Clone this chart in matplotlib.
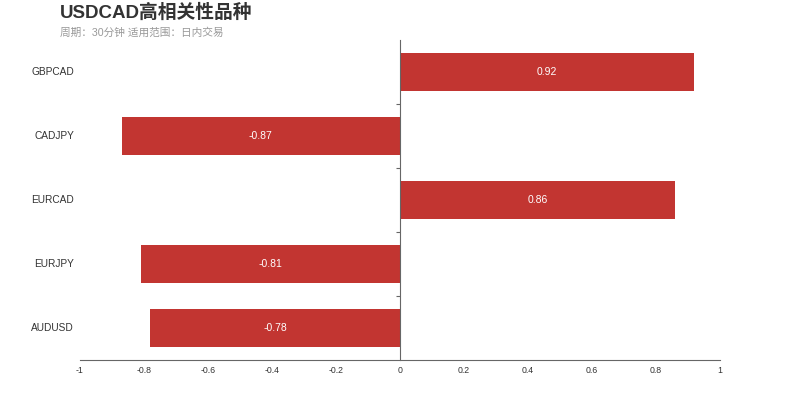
import matplotlib
matplotlib.use("Agg")
import matplotlib.pyplot as plt
import matplotlib.transforms as mtransforms

plt.rcParams['font.family'] = ['Liberation Sans', 'Noto Sans CJK SC', 'DejaVu Sans']

# data
symbols = ["GBPCAD", "CADJPY", "EURCAD", "EURJPY", "AUDUSD"]
corr = [0.92, -0.87, 0.86, -0.81, -0.78]
xticks = [-1, -0.8, -0.6, -0.4, -0.2, 0, 0.2, 0.4, 0.6, 0.8, 1]
xticklabels = ["-1", "-0.8", "-0.6", "-0.4", "-0.2", "0", "0.2", "0.4", "0.6", "0.8", "1"]

title = "USDCAD高相关性品种"
subtitle = "周期：30分钟 适用范围：日内交易"

bar_color = "#c23531"
text_color = "#333333"

fig = plt.figure(figsize=(8, 4), dpi=100)
ax = fig.add_axes([0.1, 0.1, 0.8, 0.8])

ypos = list(range(len(symbols)))
ax.barh(ypos, corr, height=0.6, color=bar_color)

for y, v in zip(ypos, corr):
    ax.text(v / 2, y, "%g" % v, color="white", fontsize=7.5, ha="center", va="center")

ax.set_xlim(-1, 1)
ax.set_ylim(len(symbols) - 0.5, -0.5)

# y axis sits at x = 0, ticks at category boundaries
ax.spines['left'].set_position(('data', 0))
ax.spines['left'].set_color("#666666")
ax.spines['bottom'].set_color("#666666")
ax.spines['top'].set_visible(False)
ax.spines['right'].set_visible(False)
ax.set_yticks([i + 0.5 for i in range(len(symbols) - 1)])
ax.set_yticklabels([])
ax.tick_params(axis='y', length=3, color="#666666", direction='out')

ax.set_xticks(xticks)
ax.set_xticklabels(xticklabels)
ax.tick_params(axis='x', length=0, labelsize=6.3, labelcolor=text_color, pad=4.5)

# category labels in the left margin
trans = mtransforms.blended_transform_factory(fig.transFigure, ax.transData)
for y, s in zip(ypos, symbols):
    ax.text(74 / 800, y, s, transform=trans, ha="right", va="center",
            fontsize=7.3, color=text_color)

fig.text(60 / 800, 1 - 12.5 / 400, title, fontsize=13.5, fontweight="bold",
         color=text_color, va="center", ha="left")
fig.text(60 / 800, 1 - 33 / 400, subtitle, fontsize=7.7, color="#999999",
         va="center", ha="left")

fig.savefig("out.png", dpi=100)
